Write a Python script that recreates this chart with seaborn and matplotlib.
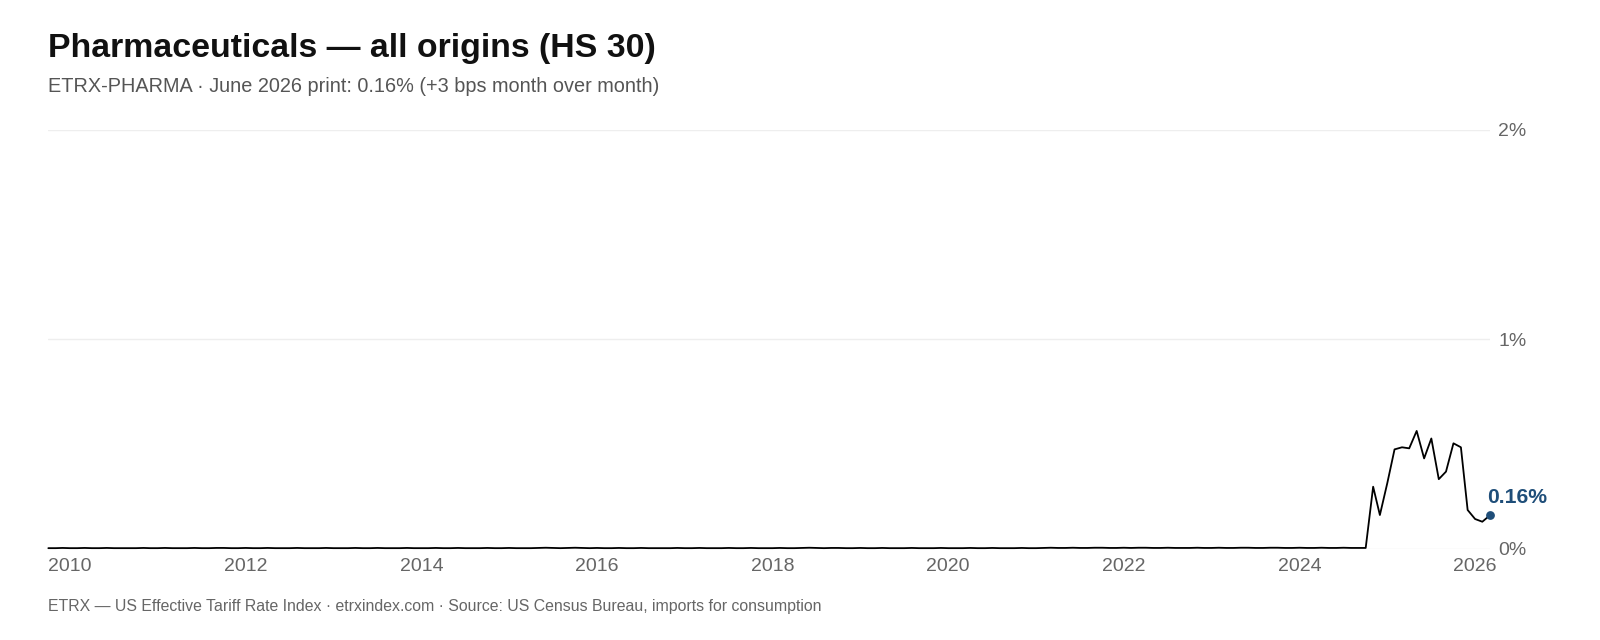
import matplotlib
matplotlib.use("Agg")
from matplotlib import pyplot as plt
import matplotlib.dates as mdates
import seaborn as sns
import pandas as pd

# monthly ETRX-PHARMA rate, % (Jan 2010 - Jun 2026)
rate_2010 = [0.004, 0.004, 0.005, 0.004, 0.004, 0.005, 0.004, 0.004, 0.005, 0.004, 0.004, 0.004]
rate_2011 = [0.004, 0.005, 0.004, 0.004, 0.005, 0.004, 0.004, 0.004, 0.005, 0.004, 0.004, 0.005]
rate_2012 = [0.005, 0.004, 0.004, 0.005, 0.004, 0.004, 0.005, 0.004, 0.004, 0.004, 0.005, 0.004]
rate_2013 = [0.004, 0.004, 0.005, 0.004, 0.004, 0.004, 0.005, 0.004, 0.004, 0.005, 0.004, 0.004]
rate_2014 = [0.004, 0.005, 0.004, 0.004, 0.004, 0.005, 0.004, 0.004, 0.005, 0.004, 0.004, 0.004]
rate_2015 = [0.005, 0.004, 0.004, 0.005, 0.004, 0.004, 0.004, 0.005, 0.006, 0.005, 0.004, 0.005]
rate_2016 = [0.006, 0.005, 0.004, 0.005, 0.004, 0.004, 0.005, 0.004, 0.004, 0.005, 0.004, 0.004]
rate_2017 = [0.004, 0.004, 0.005, 0.004, 0.004, 0.005, 0.004, 0.004, 0.004, 0.005, 0.004, 0.004]
rate_2018 = [0.005, 0.004, 0.004, 0.004, 0.005, 0.004, 0.004, 0.005, 0.006, 0.005, 0.004, 0.005]
rate_2019 = [0.005, 0.004, 0.004, 0.005, 0.004, 0.004, 0.005, 0.004, 0.004, 0.004, 0.005, 0.004]
rate_2020 = [0.004, 0.004, 0.005, 0.004, 0.004, 0.004, 0.005, 0.004, 0.004, 0.005, 0.004, 0.004]
rate_2021 = [0.004, 0.005, 0.004, 0.004, 0.005, 0.006, 0.005, 0.005, 0.006, 0.005, 0.005, 0.006]
rate_2022 = [0.006, 0.005, 0.005, 0.006, 0.005, 0.006, 0.006, 0.005, 0.005, 0.006, 0.005, 0.005]
rate_2023 = [0.005, 0.006, 0.005, 0.005, 0.006, 0.005, 0.005, 0.006, 0.006, 0.005, 0.005, 0.006]
rate_2024 = [0.006, 0.005, 0.005, 0.006, 0.005, 0.005, 0.006, 0.005, 0.005, 0.006, 0.005, 0.005]
rate_2025 = [0.005, 0.297, 0.162, 0.315, 0.475, 0.485, 0.480, 0.563, 0.432, 0.527, 0.333, 0.369]
rate_2026 = [0.504, 0.485, 0.186, 0.143, 0.130, 0.160]

rates = (rate_2010 + rate_2011 + rate_2012 + rate_2013 + rate_2014 + rate_2015
         + rate_2016 + rate_2017 + rate_2018 + rate_2019 + rate_2020 + rate_2021
         + rate_2022 + rate_2023 + rate_2024 + rate_2025 + rate_2026)
months = pd.date_range("2010-01-01", periods=len(rates), freq="MS")

tick_years = [2010, 2012, 2014, 2016, 2018, 2020, 2022, 2024, 2026]
y_ticks = [0, 1, 2]
y_labels = ["0%", "1%", "2%"]

title = "Pharmaceuticals \u2014 all origins (HS 30)"
subtitle = "ETRX-PHARMA \u00b7 June 2026 print: 0.16% (+3 bps month over month)"
footer = ("ETRX \u2014 US Effective Tariff Rate Index \u00b7 etrxindex.com \u00b7 "
          "Source: US Census Bureau, imports for consumption")

df = pd.DataFrame({"month": months, "rate": rates})

sns.set_style("white")
plt.rcParams["font.family"] = ["Liberation Sans", "DejaVu Sans"]

blue = "#1f4e79"
grey = "#666666"

fig = plt.figure(figsize=(16, 6.4), dpi=100)
ax = fig.add_axes([0.0302, 0.1422, 0.9009, 0.6553])

sns.lineplot(data=df, x="month", y="rate", color="black", linewidth=1.3, ax=ax, clip_on=False)

last = df.iloc[-1]
ax.scatter([last["month"]], [last["rate"]], s=28, color=blue, zorder=5, clip_on=False)
ax.annotate(f"{last['rate']:.2f}%", xy=(last["month"], last["rate"]),
            xytext=(-2.2, 8.9), textcoords="offset points", ha="left", va="baseline",
            fontsize=15.2, fontweight="bold", color=blue, annotation_clip=False)

ax.set_xlim(months[0], months[-1])
ax.set_ylim(0, 2)
ax.set_xticks([pd.Timestamp(f"{y}-01-01") for y in tick_years])
ax.xaxis.set_major_formatter(mdates.DateFormatter("%Y"))
for lbl in ax.get_xticklabels():
    lbl.set_horizontalalignment("left")
ax.set_yticks(y_ticks)
ax.set_yticklabels(y_labels)
ax.yaxis.tick_right()

ax.tick_params(axis="x", length=0, pad=6.5, labelsize=14, labelcolor=grey)
ax.tick_params(axis="y", length=0, pad=6, labelsize=14, labelcolor=grey)
ax.grid(axis="y", color="#eeeeee", linewidth=1)
ax.grid(axis="x", visible=False)
ax.set_xlabel("")
ax.set_ylabel("")
sns.despine(ax=ax, left=True, bottom=True, right=True, top=True)

fig.text(48 / 1600, 1 - 57.5 / 640, title, fontsize=24.4, fontweight="bold",
         color="#111111", ha="left", va="baseline")
fig.text(48 / 1600, 1 - 91.5 / 640, subtitle, fontsize=14.3, color="#555555",
         ha="left", va="baseline")
fig.text(48 / 1600, 1 - 611 / 640, footer, fontsize=11.45, color=grey,
         ha="left", va="baseline")

fig.savefig("out.png", dpi=100)
